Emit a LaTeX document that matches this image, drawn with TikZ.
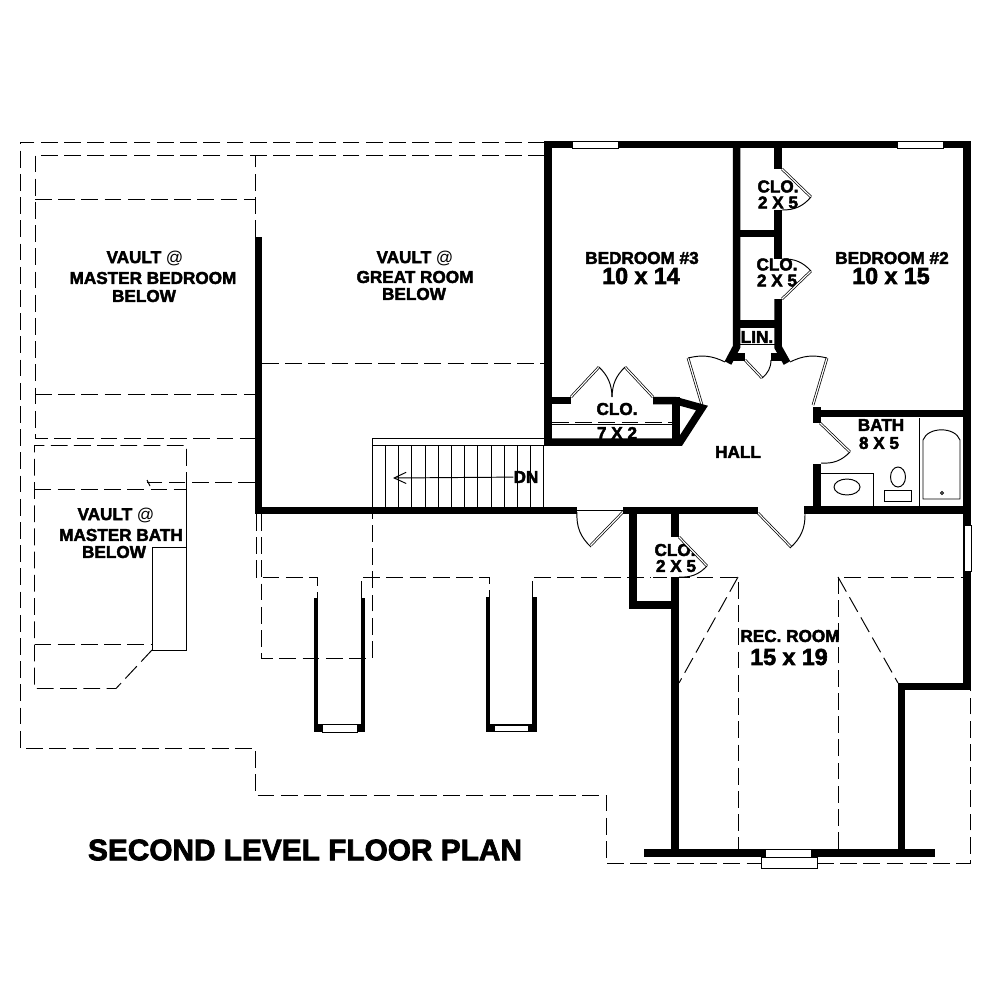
\documentclass[tikz,border=0pt]{standalone}
\usepackage{fontspec}
\setmainfont{Liberation Sans}
\newfontfamily\planfont[FakeBold=2.5]{Liberation Sans Bold}
\usetikzlibrary{positioning, arrows.meta}
\newcommand{\lblsize}{\fontsize{12.2}{12.2}\selectfont\planfont}
\begin{document}
\begin{tikzpicture}[x = 0.025cm, y = -0.025cm,
  wall/.style={line width = 0.1875cm, line join = miter},
  post/.style={line width = 0.105cm},
  hid/.style={line width = 0.024cm, dash pattern = on 0.42cm off 0.16cm},
  fine/.style={line width = 0.024cm},
  leaf/.style={line width = 0.018cm, double, double distance = 0.03cm},
  pane/.style={fill = white, draw, line width = 0.024cm},
  lbl/.style={font = \lblsize, inner sep = 0pt},
  dim/.style={font = \fontsize{16.5}{16.5}\selectfont\planfont, inner sep = 0pt}]
  \useasboundingbox (0,0) rectangle (1000,1000);

  % labels
  \node [lbl] (bed3) at (642,258) {BEDROOM \#3};
  \node [dim] (bed3dim) at (641,276) {10 x 14};
  \node [lbl] (bed2) at (892,258) {BEDROOM \#2};
  \node [dim] (bed2dim) at (891,276) {10 x 15};
  \node [lbl] (clo1) at (778,186.5) {CLO.};
  \node [lbl] (clo1dim) at (778,202.5) {2 X 5};
  \node [lbl] (clo2) at (777,264.5) {CLO.};
  \node [lbl] (clo2dim) at (777,280.5) {2 X 5};
  \node [lbl] (lin) at (757,337) {LIN.};
  \node [lbl] (clo3) at (617,409) {CLO.};
  \node [lbl] (clo3dim) at (617,433) {7 X 2};
  \node [lbl] (hall) at (738,452) {HALL};
  \node [lbl] (bath) at (881,425) {BATH};
  \node [lbl] (bathdim) at (879,443) {8 X 5};
  \node [lbl] (clo4) at (675,550) {CLO.};
  \node [lbl] (clo4dim) at (676,566) {2 X 5};
  \node [lbl] (rec) at (790,636) {REC. ROOM};
  \node [dim] (recdim) at (789,657) {15 x 19};
  \node [lbl] (vault1) at (145,258) {VAULT {\normalfont @}};
  \node [lbl] (vault1a) at (153,278) {MASTER BEDROOM};
  \node [lbl] (vault1b) at (144,296) {BELOW};
  \node [lbl] (vault2) at (415,258) {VAULT {\normalfont @}};
  \node [lbl] (vault2a) at (415,277) {GREAT ROOM};
  \node [lbl] (vault2b) at (414,294) {BELOW};
  \node [lbl] (vault3) at (116,515) {VAULT {\normalfont @}};
  \node [lbl] (vault3a) at (121,535) {MASTER BATH};
  \node [lbl] (vault3b) at (114,552) {BELOW};
  \node [lbl] (dn) at (526,477) {DN};
  \node [font = \fontsize{21.2}{21.2}\selectfont\planfont, inner sep = 0pt] (title) at (305,850) {SECOND LEVEL FLOOR PLAN};

  % outlines below
  \draw [hid] (545,142) -- (20,142) -- (20,748) -- (255,748) -- (255,795) -- (606,795) -- (606,863) -- (761,863);
  \draw [hid] (817,863) -- (970,863) -- (970,688);
  \draw [hid] (545,155) -- (35,155) -- (35,438) -- (255,438);
  \draw [hid] (255,237) -- (255,155);
  \draw [hid] (35,199) -- (255,199);
  \draw [hid] (35,394) -- (255,394);
  \draw [hid] (262,363) -- (545,363);
  \draw [hid] (186.5,489) -- (186.5,445.5) -- (34.5,445.5) -- (34.5,688.5) -- (116,688.5) -- (152,650);
  \draw [hid] (34.5,489) -- (186.5,489);
  \draw [hid] (34.5,644.5) -- (152,644.5);
  \draw [hid] (255,482) -- (147,482);
  \draw [fine] (147,480) -- (150,486);
  \draw [fine] (186.5,489) -- (186.5,547) -- (152.5,547) -- (152.5,650.5) -- (186.5,650.5) -- (186.5,547);
  \draw [hid] (256,514) -- (256,577) -- (317,577) -- (317,598);
  \draw [hid] (361,598) -- (361,577) -- (489,577) -- (489,598);
  \draw [hid] (532,598) -- (532,577) -- (738,577) -- (738,849);
  \draw [hid] (838,849) -- (838,577) -- (963,577);
  \draw [hid] (261,514) -- (261,658) -- (372,658) -- (372,514);
  \draw [hid] (738,577) -- (679,683);
  \draw [hid] (838,577) -- (898,683);

  % stair
  \draw [fine] (545,438) -- (372,438) -- (372,507);
  \draw [fine] (372,445) -- (545,445);
  \foreach \i in {1,...,13}
    \draw [fine] ({372.3+13.2*\i},445) -- ({372.3+13.2*\i},507);
  \coordinate (stairend) at (393,478);
  \draw [fine, -{Straight Barb[length = 0.3cm, width = 0.28cm]}] (dn) -- (stairend);

  % doors
  \draw [leaf] (702,405) -- (688,358);
  \draw [fine] (688,358) to [bend left = 20] (725,362);
  \draw [leaf] (813,405) -- (827,358);
  \draw [fine] (827,358) to [bend right = 20] (790,362);
  \draw [leaf] (745,360) -- (762,378);
  \draw [fine] (762,378) to [bend right = 25] (771,360);
  \draw [leaf] (571,397) -- (599,367);
  \draw [fine] (599,367) to [bend left = 22] (612,397);
  \draw [leaf] (653,397) -- (625,367);
  \draw [fine] (625,367) to [bend right = 22] (612,397);
  \draw [leaf] (820,423) -- (850,452);
  \draw [fine] (850,452) to [bend left = 25] (821,463);
  \draw [leaf] (623,512) -- (591,545);
  \draw [fine] (591,547) to [bend left = 25] (577,512);
  \draw [fine] (577,510) -- (623,510);
  \draw [leaf] (758,513) -- (791,547);
  \draw [fine] (790,548) to [bend right = 25] (805,513);
  \draw [leaf] (782,169) -- (811,197);
  \draw [fine] (811,197) to [bend left = 25] (782,210);
  \draw [leaf] (782,299) -- (811,271);
  \draw [fine] (811,271) to [bend right = 25] (782,259);
  \draw [leaf] (679,537) -- (707,566);
  \draw [fine] (707,566) to [bend left = 25] (679,577);

  % rods
  \draw [leaf] (756,148) -- (756,320);
  \draw [leaf] (652,514) -- (652,602);
  \draw [hid] (552,422) -- (672,422);
  \draw [fine] (552,424) -- (672,424);
  \draw [fine] (740,344) -- (775,344);

  % bath fixtures
  \draw [fine] (919,418) -- (919,507);
  \draw [fine] (923,499) -- (923,440) to [bend left = 70] (960,440) -- (960,499) -- cycle;
  \draw [fine] (942,493) circle (1.5);
  \draw [fine] (821,473) -- (873,473) -- (873,507);
  \draw [fine] (847,487) ellipse (13 and 8);
  \draw [fine] (898,477) ellipse (7.5 and 10);
  \draw [fine] (884,490) rectangle (911,501);

  % walls
  \draw [wall] (548,446) -- (548,144.5) -- (967,144.5) -- (967,686.5) -- (901.5,686.5) -- (901.5,853);
  \draw [wall] (967,413.5) -- (813,413.5);
  \draw [wall] (736.5,144) -- (736.5,347) -- (728,363);
  \draw [wall] (733,357) -- (745,357);
  \draw [wall] (778,148) -- (778,169);
  \draw [wall] (778,210) -- (778,259);
  \draw [wall] (778,299) -- (778,347) -- (787,363);
  \draw [wall] (771,357) -- (782,357);
  \draw [wall] (736,233.5) -- (778,233.5);
  \draw [wall] (736,324) -- (778,324);
  \draw [wall] (552,400.5) -- (571,400.5);
  \draw [wall] (653,400.5) -- (675,400.5) -- (702,408) -- (680,442) -- (544,442);
  \draw [wall] (676,397) -- (676,442);
  \draw [wall] (817,407) -- (817,423);
  \draw [wall] (817,464) -- (817,510);
  \draw [wall] (258.5,237) -- (258.5,510.5) -- (577,510.5);
  \draw [wall] (623,510.5) -- (758,510.5);
  \draw [wall] (804,510) -- (967,510);
  \draw [wall] (633,514) -- (633,605) -- (679,605);
  \draw [wall] (675,514) -- (675,537);
  \draw [wall] (675,577) -- (675,853);
  \draw [wall] (644,853) -- (935,853);
  \draw [post] (316,598) -- (316,728);
  \draw [post] (363,598) -- (363,728);
  \draw [wall] (314,728) -- (365,728);
  \draw [post] (488,597) -- (488,728);
  \draw [post] (534.5,597) -- (534.5,728);
  \draw [wall] (486,728) -- (537,728);

  % windows
  \draw [pane] (572,141) rectangle (618,148);
  \draw [pane] (897,141) rectangle (943,148);
  \draw [pane] (964,525) rectangle (971,571);
  \draw [pane] (765,849) rectangle (811,857);
  \draw [pane] (761,857) rectangle (817,868);
  \draw [pane] (322,724) rectangle (357,732);
  \draw [pane] (494,725) rectangle (528,731);
\end{tikzpicture}
\end{document}
